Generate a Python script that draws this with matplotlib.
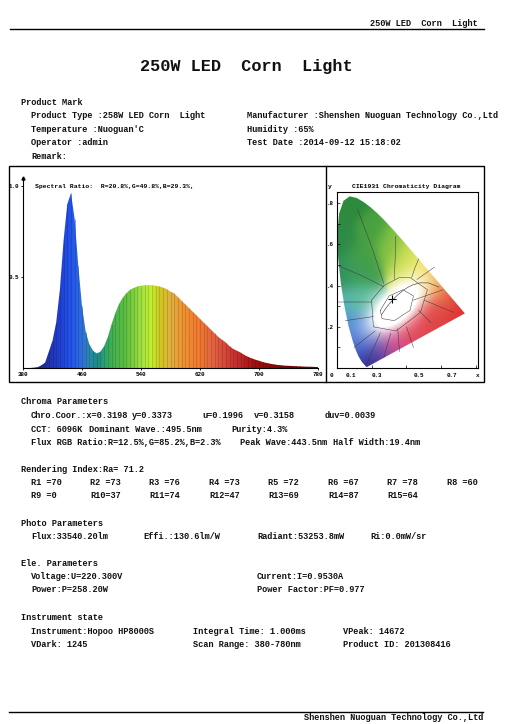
import numpy as np
import matplotlib
matplotlib.use("Agg")
import matplotlib.pyplot as plt
from matplotlib.colors import LinearSegmentedColormap, to_rgb
from matplotlib.patches import Polygon, Rectangle
from matplotlib.lines import Line2D

# ---------------- data ----------------
wavelength = list(range(380, 785, 5))
intensity = [0.0, 0.0, 0.0, 0.002, 0.005, 0.015, 0.03, 0.09, 0.15, 0.25,
             0.43, 0.70, 0.90, 0.96, 0.82, 0.56, 0.34, 0.20, 0.13, 0.095,
             0.08, 0.09, 0.12, 0.17, 0.24, 0.30, 0.35, 0.385, 0.41, 0.43,
             0.44, 0.448, 0.452, 0.455, 0.455, 0.455, 0.452, 0.448, 0.442, 0.433,
             0.42, 0.41, 0.39, 0.37, 0.35, 0.33, 0.31, 0.29, 0.27, 0.25,
             0.23, 0.21, 0.19, 0.17, 0.155, 0.14, 0.12, 0.105, 0.095, 0.085,
             0.072, 0.062, 0.053, 0.046, 0.04, 0.033, 0.028, 0.024, 0.02, 0.017,
             0.015, 0.013, 0.012, 0.011, 0.01, 0.009, 0.008, 0.007, 0.007, 0.006,
             0.005]
spec_xticks = [380, 460, 540, 620, 700, 780]
spec_yticks = [0.5, 1.0]
spectral_ratio = "Spectral Ratio:  R=20.8%,G=49.8%,B=29.3%,"

# CIE1931 spectral locus (x, y)
locus_x = [0.1741, 0.1733, 0.1714, 0.1689, 0.1644, 0.1566, 0.1440, 0.1241, 0.1096,
           0.0913, 0.0687, 0.0454, 0.0235, 0.0082, 0.0039, 0.0139, 0.0389, 0.0743,
           0.1142, 0.1547, 0.1929, 0.2296, 0.2658, 0.3016, 0.3373, 0.3731, 0.4087,
           0.4441, 0.4788, 0.5125, 0.5448, 0.5752, 0.6029, 0.6270, 0.6658, 0.6915,
           0.7079, 0.7190, 0.7260, 0.7334, 0.7347]
locus_y = [0.0050, 0.0048, 0.0051, 0.0069, 0.0109, 0.0177, 0.0297, 0.0578, 0.0868,
           0.1327, 0.2007, 0.2950, 0.4127, 0.5384, 0.6548, 0.7502, 0.8120, 0.8338,
           0.8262, 0.8059, 0.7816, 0.7543, 0.7243, 0.6923, 0.6589, 0.6245, 0.5896,
           0.5547, 0.5202, 0.4866, 0.4544, 0.4242, 0.3965, 0.3725, 0.3340, 0.3083,
           0.2920, 0.2809, 0.2740, 0.2666, 0.2653]
planck_x = [0.5857, 0.5267, 0.4770, 0.4369, 0.4053, 0.3805, 0.3451, 0.3221, 0.3064,
            0.2952, 0.2807, 0.2637, 0.2565]
planck_y = [0.3931, 0.4133, 0.4137, 0.4041, 0.3907, 0.3768, 0.3516, 0.3318, 0.3166,
            0.3048, 0.2884, 0.2675, 0.2577]
region_lines = [
    ([0.12, 0.20, 0.27], [0.77, 0.59, 0.41]),
    ([0.337, 0.335, 0.33], [0.64, 0.53, 0.43]),
    ([0.0, 0.14, 0.27], [0.50, 0.45, 0.395]),
    ([0.01, 0.20], [0.32, 0.32]),
    ([0.05, 0.21], [0.23, 0.25]),
    ([0.10, 0.22], [0.10, 0.18]),
    ([0.166, 0.25], [0.01, 0.17]),
    ([0.27, 0.31], [0.05, 0.17]),
    ([0.36, 0.35], [0.08, 0.19]),
    ([0.44, 0.61], [0.33, 0.38]),
    ([0.46, 0.56], [0.43, 0.49]),
    ([0.43, 0.45, 0.47], [0.44, 0.49, 0.53]),
    ([0.50, 0.67], [0.33, 0.27]),
    ([0.47, 0.54], [0.28, 0.22]),
    ([0.40, 0.44], [0.20, 0.10]),
    ([0.20, 0.27, 0.36, 0.42, 0.52, 0.48, 0.34, 0.21, 0.20],
     [0.33, 0.40, 0.44, 0.44, 0.38, 0.27, 0.18, 0.20, 0.33]),
    ([0.25, 0.30, 0.38, 0.44, 0.42, 0.33, 0.26, 0.25],
     [0.28, 0.35, 0.38, 0.35, 0.28, 0.23, 0.24, 0.28]),
]
chroma_x, chroma_y = 0.3198, 0.3373
cie_xlabels = ["0", "0.1", "0.3", "0.5", "0.7", "x"]
cie_xlabel_pos = [-0.03, 0.08, 0.23, 0.47, 0.66, 0.81]
cie_yticks = [0.2, 0.4, 0.6, 0.8]
cie_yticklabels = [".2", ".4", ".6", ".8"]

# report text
product_left = ["Product Type :258W LED Corn  Light", "Temperature :Nuoguan'C",
                "Operator :admin", "Remark:"]
product_right = ["Manufacturer :Shenshen Nuoguan Technology Co.,Ltd",
                 "Humidity :65%", "Test Date :2014-09-12 15:18:02"]
chroma_row1 = ["Chro.Coor.:x=0.3198", "y=0.3373", "u=0.1996", "v=0.3158", "duv=0.0039"]
chroma_row2 = ["CCT: 6096K", "Dominant Wave.:495.5nm", "Purity:4.3%"]
chroma_row3 = ["Flux RGB Ratio:R=12.5%,G=85.2%,B=2.3%", "Peak Wave:443.5nm",
               "Half Width:19.4nm"]
ra_text = "Rendering Index:Ra= 71.2"
r_labels = ["R1 ", "R2 ", "R3 ", "R4 ", "R5 ", "R6 ", "R7 ", "R8 ",
            "R9 ", "R10", "R11", "R12", "R13", "R14", "R15"]
r_values = [70, 73, 76, 73, 72, 67, 78, 60, 0, 37, 74, 47, 69, 87, 64]
photo_row = ["Flux:33540.20lm", "Effi.:130.6lm/W", "Radiant:53253.8mW", "Ri:0.0mW/sr"]
ele_left = ["Voltage:U=220.300V", "Power:P=258.20W"]
ele_right = ["Current:I=0.9530A", "Power Factor:PF=0.977"]
inst_row1 = ["Instrument:Hopoo HP8000S", "Integral Time: 1.000ms", "VPeak: 14672"]
inst_row2 = ["VDark: 1245", "Scan Range: 380-780nm", "Product ID: 201308416"]
title = "250W LED  Corn  Light"
company = "Shenshen Nuoguan Technology Co.,Ltd"

# ---------------- figure ----------------
W, H = 509, 724
fig = plt.figure(figsize=(W / 100, H / 100), dpi=100)
fig.patch.set_facecolor("white")
FONT = "Liberation Mono"
FS = 6.25

def fx(px):
    return px / W

def fy(py):
    return 1 - py / H

def txt(px, py, s, size=FS, ha="left", weight="bold"):
    fig.text(fx(px), fy(py), s, fontsize=size, ha=ha, va="center",
             family=FONT, weight=weight, color="#111111")

# header / footer
fig.add_artist(Line2D([fx(10), fx(484)], [fy(29), fy(29)], color="black", lw=1.0))
txt(478, 23, title, ha="right")
txt(246, 66, title, size=12.2, ha="center")
fig.add_artist(Line2D([fx(9), fx(483)], [fy(712), fy(712)], color="black", lw=1.0))
txt(483, 717, company, ha="right")

# product mark
txt(20.7, 102.7, "Product Mark")
for i, s in enumerate(product_left):
    txt(31, 115.3 + i * 13.7, s)
for i, s in enumerate(product_right):
    txt(246.7, 115.3 + i * 13.7, s)

# chart frame
fig.add_artist(Rectangle((fx(9), fy(382)), fx(484) - fx(9), fy(166) - fy(382),
                         fill=False, ec="black", lw=1.0))
fig.add_artist(Line2D([fx(326), fx(326)], [fy(166), fy(382)], color="black", lw=1.0))

# ---------------- spectrum ----------------
ymax = (368 - 178) / 182.0
ax = fig.add_axes([fx(23), fy(368), (318 - 23) / W, (368 - 178) / H])
ax.set_xlim(380, 780)
ax.set_ylim(0, ymax)
anchors = [(380, "#1a1a70"), (410, "#2030a0"), (430, "#2040d0"), (445, "#2255ee"),
           (460, "#3070d8"), (470, "#2a8aa8"), (480, "#1a8a8a"), (490, "#30a070"),
           (500, "#40b050"), (520, "#60c040"), (540, "#a0e040"), (553, "#c0f030"),
           (566, "#d0c820"), (580, "#e0b040"), (600, "#f09030"), (620, "#f07830"),
           (640, "#e06040"), (668, "#c83030"), (695, "#a01010"), (730, "#800808"),
           (780, "#700000")]
cmap = LinearSegmentedColormap.from_list(
    "spec", [((w - 380) / 400.0, c) for w, c in anchors])
grad = np.linspace(0, 1, 800)[None, :]
im = ax.imshow(grad, extent=[380, 780, 0, ymax], aspect="auto", cmap=cmap,
               origin="lower", zorder=1)
poly = ax.fill_between(wavelength, 0, intensity, color="none", lw=0)
clip = Polygon(poly.get_paths()[0].vertices, closed=True, transform=ax.transData)
im.set_clip_path(clip)
for w, v in zip(wavelength, intensity):
    c = np.array(cmap((w - 380) / 400.0)[:3]) * 0.72
    ax.vlines(w, 0, v, color=c, lw=0.5, alpha=0.7, zorder=2)
for s in ["top", "right"]:
    ax.spines[s].set_visible(False)
ax.spines["left"].set_linewidth(0.8)
ax.spines["bottom"].set_linewidth(0.8)
ax.plot([0], [1], marker="^", ms=2.2, color="black", transform=ax.transAxes,
        clip_on=False)
ax.set_xticks(spec_xticks)
ax.set_xticklabels([str(t) for t in spec_xticks], family=FONT, weight="bold", fontsize=4.2)
ax.set_yticks(spec_yticks)
ax.set_yticklabels(["0.5", "1.0"], family=FONT, weight="bold", fontsize=4.2)
ax.tick_params(axis="both", length=1.5, width=0.6, pad=1.5)
ax.patch.set_alpha(0)
ax.text(0.04, 0.955, spectral_ratio, transform=ax.transAxes, fontsize=4.6,
        family=FONT, weight="bold", va="center", ha="left")

# ---------------- CIE diagram ----------------
cx0, cx1, cy0, cy1 = 0.0, 0.81, 0.0, 0.855
ax2 = fig.add_axes([fx(336.7), fy(368), (478 - 336.7) / W, (368 - 192) / H])
ax2.set_xlim(cx0, cx1)
ax2.set_ylim(cy0, cy1)
gx, gy = np.meshgrid(np.linspace(cx0, cx1, 300), np.linspace(cy0, cy1, 320))
# background colour field: smooth blend of reference tones
tone_pts = [((0.07, 0.80), "#2e8a3c"), ((0.20, 0.66), "#48a040"), ((0.30, 0.60), "#84c244"),
            ((0.40, 0.54), "#cade56"), ((0.47, 0.48), "#f2ea66"), ((0.55, 0.42), "#f0b048"),
            ((0.62, 0.35), "#e86848"), ((0.69, 0.29), "#e03434"), ((0.56, 0.26), "#e04444"),
            ((0.45, 0.16), "#e24858"), ((0.34, 0.09), "#d44888"), ((0.26, 0.05), "#6444a8"),
            ((0.18, 0.02), "#322c92"), ((0.13, 0.10), "#3c5ec8"), ((0.08, 0.20), "#4c84d8"),
            ((0.03, 0.29), "#52aec2"), ((0.09, 0.34), "#5cbc9c"), ((0.03, 0.45), "#2f9060"),
            ((0.10, 0.47), "#3f9e58"), ((0.03, 0.62), "#2e8a48"), ((0.15, 0.55), "#45a048")]
acc = np.zeros(gx.shape + (3,))
wsum = np.zeros(gx.shape)
for (px_, py_), col in tone_pts:
    wgt = np.exp(-((gx - px_) ** 2 + (gy - py_) ** 2) / 0.07 ** 2) + 1e-12
    acc += wgt[..., None] * np.array(to_rgb(col))
    wsum += wgt
rgb = acc / wsum[..., None]
ang = np.deg2rad(35)
du, dv = gx - 0.34, gy - 0.30
u = du * np.cos(ang) + dv * np.sin(ang)
v = -du * np.sin(ang) + dv * np.cos(ang)
wmix = np.exp(-((u / 0.18) ** 2 + (v / 0.09) ** 2))
wmix = np.clip(wmix * 1.8, 0, 1)[..., None]
rgb = rgb * (1 - wmix) + wmix
img = ax2.imshow(np.clip(rgb, 0, 1), extent=[cx0, cx1, cy0, cy1], origin="lower",
                 aspect="auto", zorder=1, interpolation="bilinear")
lpoly = Polygon(np.column_stack([locus_x, locus_y]), closed=True,
                transform=ax2.transData, fc="none", ec="none")
ax2.add_patch(lpoly)
img.set_clip_path(lpoly)
ax2.plot(planck_x, planck_y, color="#333333", lw=0.4, zorder=3)
for lx, ly in region_lines:
    ax2.plot(lx, ly, color="#3a3a3a", lw=0.35, zorder=3)
ax2.plot([chroma_x], [chroma_y], marker="+", color="black", ms=6, mew=0.8, zorder=4)
ax2.set_xticks([0.2, 0.4, 0.6, 0.8])
ax2.set_xticklabels([])
ax2.set_yticks(cie_yticks)
ax2.set_yticklabels(cie_yticklabels, family=FONT, weight="bold", fontsize=4.2)
ax2.set_yticks(np.arange(0.1, 0.85, 0.1), minor=True)
ax2.tick_params(axis="both", which="both", direction="in", length=2, width=0.5, pad=2)
for s in ax2.spines.values():
    s.set_linewidth(0.8)
for lab, pos in zip(cie_xlabels, cie_xlabel_pos):
    ax2.text(pos, -0.025, lab, fontsize=4.2, family=FONT, weight="bold",
             ha="center", va="top", clip_on=False)
ax2.text(-0.04, 0.87, "y", fontsize=4.6, family=FONT, weight="bold",
         ha="center", va="bottom", clip_on=False)
ax2.text(0.4, 0.87, "CIE1931 Chromaticity Diagram", fontsize=4.6, family=FONT,
         weight="bold", ha="center", va="bottom", clip_on=False)

# ---------------- parameters ----------------
txt(20.7, 401.7, "Chroma Parameters")
for s, x in zip(chroma_row1, [31, 131.7, 202, 254, 325]):
    txt(x, 415.7, s)
for s, x in zip(chroma_row2, [31, 89, 231]):
    txt(x, 429.3, s)
for s, x in zip(chroma_row3, [31, 240, 333]):
    txt(x, 442.7, s)

txt(20.7, 470, ra_text)
rcols = [31, 90, 149, 209, 268, 328, 387, 447]
for i, (lab, val) in enumerate(zip(r_labels, r_values)):
    row, col = divmod(i, 8)
    txt(rcols[col], 482.3 + row * 13.7, f"{lab}={val}")

txt(20.7, 523.3, "Photo Parameters")
for s, x in zip(photo_row, [31, 143, 257, 370]):
    txt(x, 536.7, s)

txt(20.7, 564, "Ele. Parameters")
for i, (l, r) in enumerate(zip(ele_left, ele_right)):
    txt(31, 576.7 + i * 13.3, l)
    txt(257, 576.7 + i * 13.3, r)

txt(20.7, 617.7, "Instrument state")
for s, x in zip(inst_row1, [31, 192.7, 343]):
    txt(x, 631, s)
for s, x in zip(inst_row2, [31, 192.7, 343]):
    txt(x, 644.3, s)

fig.savefig("out.png", dpi=100, facecolor="white")
